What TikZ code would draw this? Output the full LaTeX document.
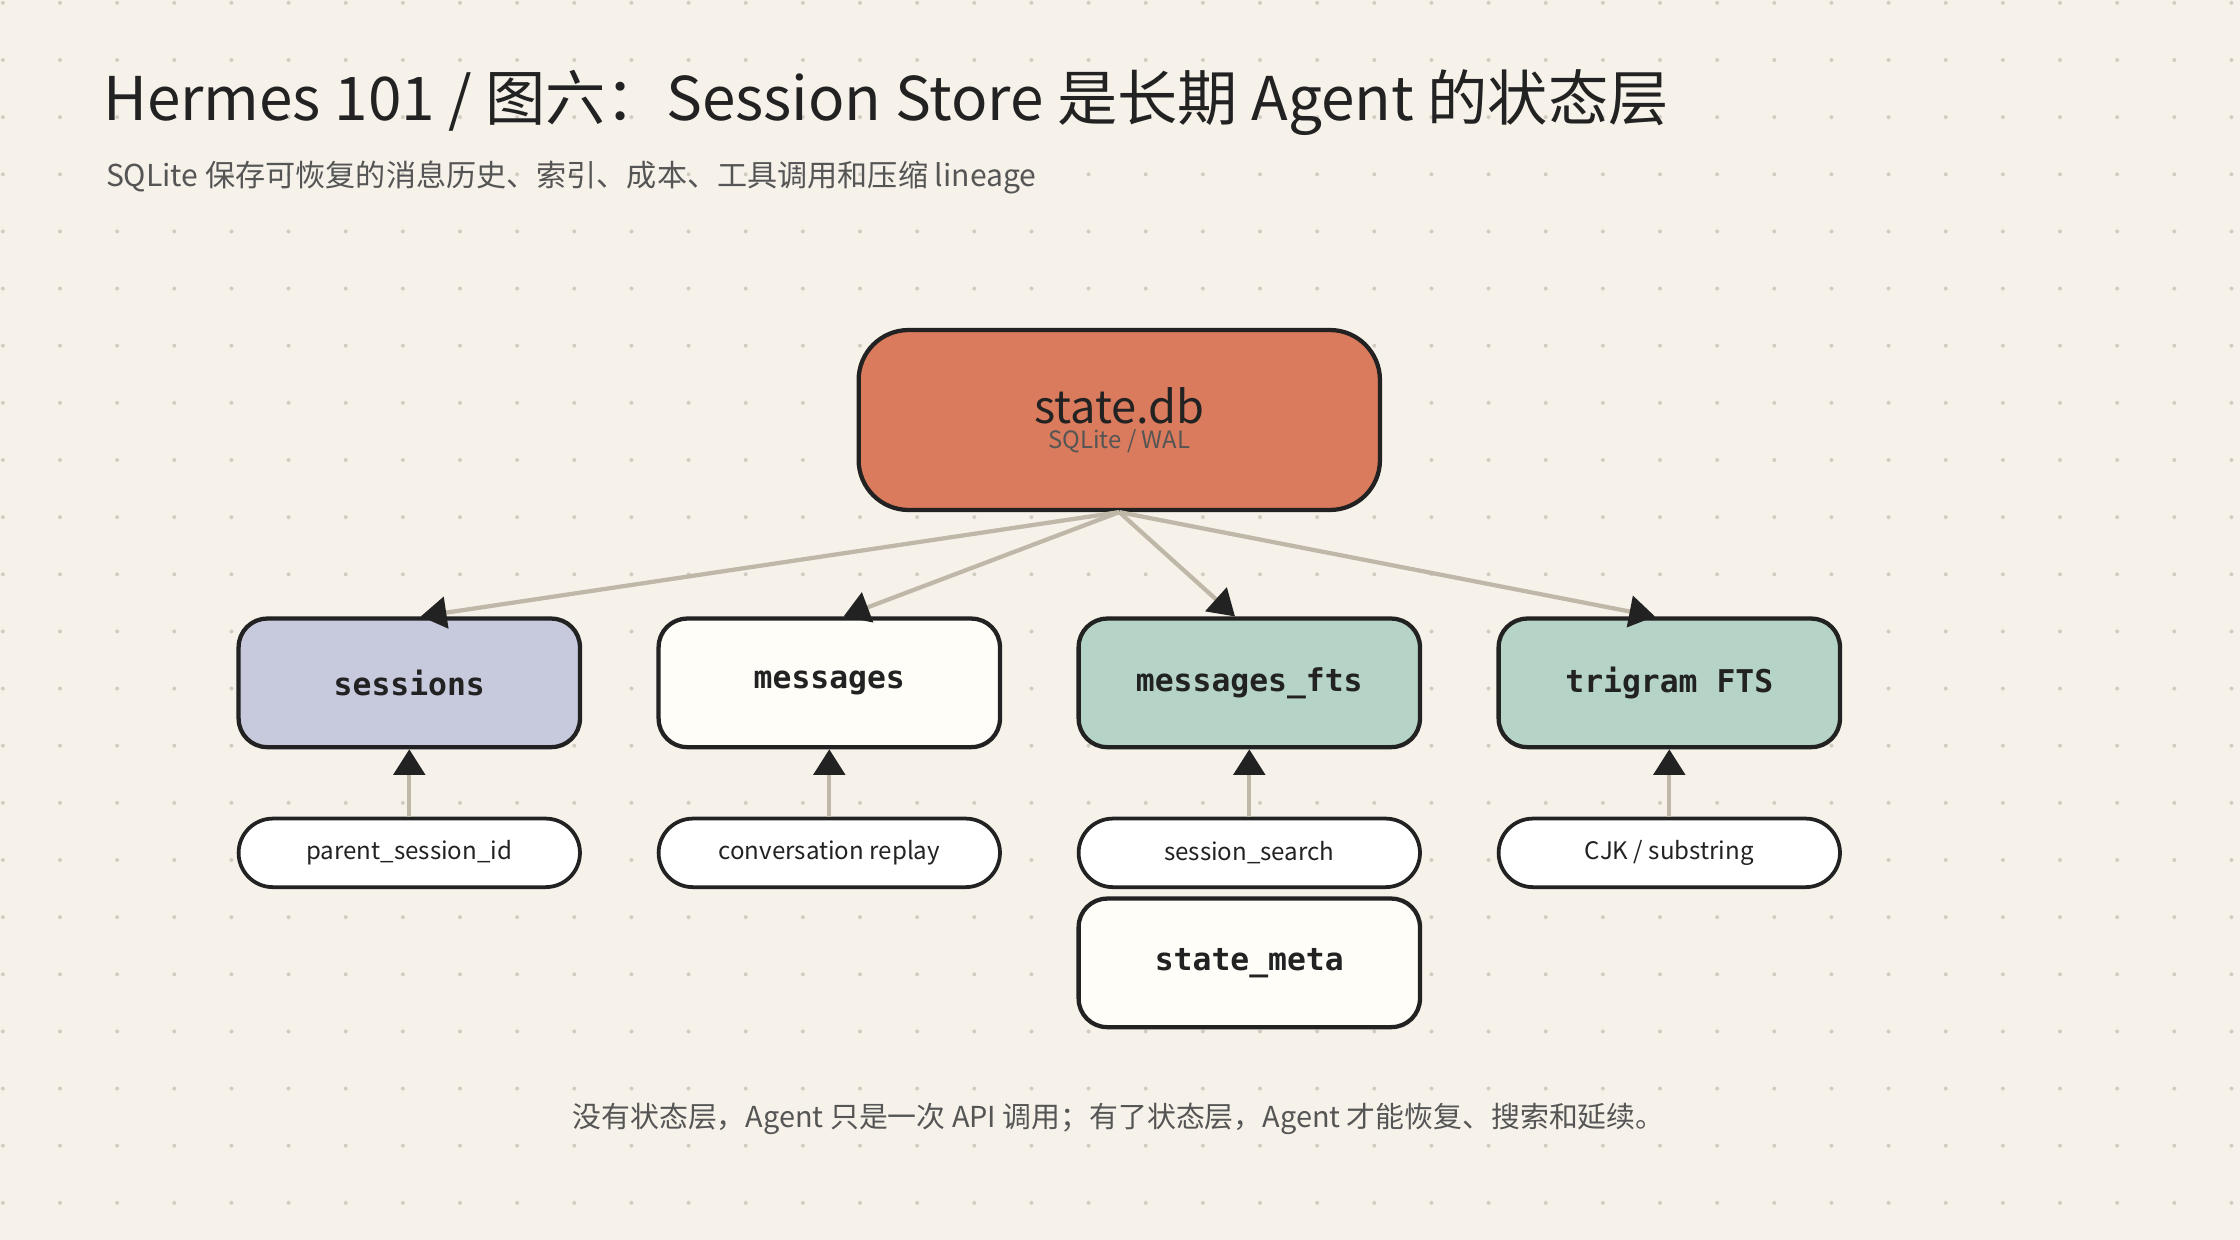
\documentclass[tikz,border=0pt]{standalone}
\usepackage{fontspec}
\setmainfont{Noto Sans CJK SC}
\newfontfamily\monob{DejaVu Sans Mono}
\usetikzlibrary{arrows.meta,calc}
\definecolor{bg}{HTML}{F6F2EA}
\definecolor{dbc}{HTML}{D97B5C}
\definecolor{sesc}{HTML}{C7C9DD}
\definecolor{wc}{HTML}{FFFDF7}
\definecolor{gc}{HTML}{B5D3C6}
\definecolor{lc}{HTML}{BFB8A8}
\definecolor{tc}{HTML}{222222}
\definecolor{sc}{HTML}{555555}
\begin{document}
\begin{tikzpicture}[x=0.02cm,y=-0.02cm,
 box/.style={draw=tc,line width=1.7pt,rounded corners=0.4cm,minimum width=4.78cm,minimum height=1.8cm,font=\monob\bfseries\fontsize{12.5}{14}\selectfont,text=tc},
 tag/.style={draw=tc,line width=1.5pt,rounded corners=0.48cm,fill=white,minimum width=4.78cm,minimum height=0.96cm,font=\fontsize{9.6}{11}\selectfont,text=tc},
 con/.style={draw=lc,line width=1.7pt,-{Triangle[length=0.36cm,width=0.44cm,fill=tc,color=tc]}}]
\fill[bg] (0,0) rectangle (1568,868);
\useasboundingbox (0,0) rectangle (1568,868);
\foreach \i in {0,...,39}{\foreach \j in {0,...,21}{\fill[lc!70] (\i*40+2,\j*40+2) circle (0.8pt);}}
\node[anchor=west,text=tc,font=\fontsize{24}{28}\selectfont] (title) at (66,72) {Hermes 101 / 图六：Session Store 是长期 Agent 的状态层};
\node[anchor=west,text=sc,font=\fontsize{12}{14}\selectfont] (sub) at (68,124) {SQLite 保存可恢复的消息历史、索引、成本、工具调用和压缩 lineage};
\node[draw=tc,line width=1.7pt,fill=dbc,rounded corners=0.7cm,minimum width=7.3cm,minimum height=2.52cm,align=center] (db) at (783.5,294)
 {{\fontsize{18}{20}\selectfont\color{tc}state.db}\\[-2pt]{\fontsize{9.5}{11}\selectfont\color{sc}SQLite / WAL}};
\node[box,fill=sesc] (s1) at (286.5,478) {sessions};
\node[box,fill=wc] (s2) at (580.5,478) {messages};
\node[box,fill=gc] (s3) at (874.5,478) {messages\_fts};
\node[box,fill=gc] (s4) at (1168.5,478) {trigram FTS};
\node[tag] (t1) at (286.5,597) {parent\_session\_id};
\node[tag] (t2) at (580.5,597) {conversation replay};
\node[tag] (t3) at (874.5,597) {session\_search};
\node[tag] (t4) at (1168.5,597) {CJK / substring};
\node[box,fill=wc] (meta) at (874.5,674) {state\_meta};
\draw[con] (db.south) -- ($(s1.north)+(8,0)$);
\draw[con] (db.south) -- ($(s2.north)+(10,0)$);
\draw[con] (db.south) -- ($(s3.north)+(-10,0)$);
\draw[con] (db.south) -- ($(s4.north)+(-10,0)$);
\draw[con] (t1) -- (s1);
\draw[con] (t2) -- (s2);
\draw[con] (t3) -- (s3);
\draw[con] (t4) -- (s4);
\node[text=sc,font=\fontsize{11.5}{13}\selectfont] (foot) at (783,783) {没有状态层，Agent 只是一次 API 调用；有了状态层，Agent 才能恢复、搜索和延续。};
\end{tikzpicture}
\end{document}
